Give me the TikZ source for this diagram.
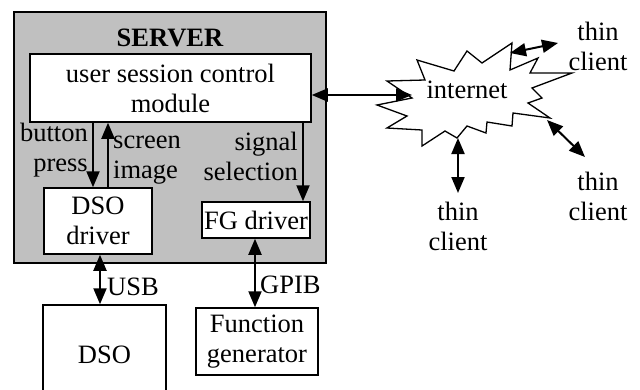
\documentclass[tikz,border=0pt]{standalone}
\usepackage{fontspec}
\setmainfont{Liberation Serif}
\usepackage{tikz}
\usetikzlibrary{arrows.meta,calc,positioning}
\definecolor{ServerGray}{HTML}{C0C0C0}

\begin{document}
\begin{tikzpicture}[x=1pt, y=-1pt, >={Triangle[length=16pt,width=13pt]},
    font=\fontsize{26.5}{30}\selectfont,
    box/.style={draw, line width=1.5pt, fill=white, inner sep=0pt, align=center},
    lbl/.style={inner sep=0pt, align=center},
    link/.style={line width=2pt}]
    \useasboundingbox (0,0) rectangle (640,389);

    % Server frame
    \node[box, fill=ServerGray, minimum width=312pt, minimum height=251pt] (server) at (170,137.5) {};
    \node[font=\fontsize{26.5}{30}\selectfont\bfseries, lbl] (title) at (170,38) {SERVER};

    % Boxes inside the server
    \node[box, minimum width=281pt, minimum height=68pt] (usc) at (170.5,88) {user session control\\module};
    \node[box, minimum width=108pt, minimum height=66pt] (dsod) at (98,221) {DSO\\driver};
    \node[box, minimum width=108pt, minimum height=36pt] (fgd) at (256,220) {FG driver};

    % Instruments
    \node[box, minimum width=123pt, minimum height=100pt] (dso) at (104.5,355) {DSO};
    \node[box, minimum width=122pt, minimum height=67pt] (fg) at (257,341.5) {Function\\generator};

    % Internet cloud
    \draw[line width=1.3pt, fill=white] (377,105) -- (412,98) -- (387,81) -- (425,80) -- (417,60)
        -- (454,71) -- (467,51) -- (482,63) -- (512,43) -- (510,70) -- (538,58) -- (530,73)
        -- (572,73) -- (532,88) -- (542,98) -- (528,103) -- (550,118) -- (513,113) -- (512,126)
        -- (487,122) -- (486,133) -- (467,126) -- (457,138) -- (445,131) -- (422,146) -- (422,130)
        -- (387,128) -- (407,116) -- cycle;
    \node[lbl] (net) at (467,90) {internet};
    \coordinate (netW) at (412,95);
    \coordinate (netNE) at (510,53);
    \coordinate (netSE) at (547,120);
    \coordinate (netS) at (458,138);

    % Clients
    \node[lbl] (clientA) at (598,46) {thin\\client};
    \node[lbl] (clientB) at (598,196) {thin\\client};
    \node[lbl] (clientC) at (458,226) {thin\\client};
    \coordinate (cA) at (558,43);
    \coordinate (cB) at (585,157);
    \coordinate (cC) at (458,193);

    % Internal connections
    \draw[link, ->] (usc.south -| 93,0) -- (dsod.north -| 93,0);
    \draw[link, ->] (dsod.north -| 108,0) -- (usc.south -| 108,0);
    \draw[link, ->] (usc.south -| 303,0) -- (fgd.north -| 303,0);
    \node[lbl, anchor=east, align=right] (bp) at (88,150) {button\\press};
    \node[lbl, anchor=west, align=left] (si) at (113,160) {screen\\image};
    \node[lbl, anchor=east, align=right] (ss) at (298,156) {signal\\selection};

    % Instrument links
    \draw[link, <->] (dsod.south -| 100,0) -- (dso.north -| 100,0);
    \node[lbl, anchor=west] (usb) at (107,287) {USB};
    \draw[link, <->] (fgd.south -| 255,0) -- (fg.north -| 255,0);
    \node[lbl, anchor=west] (gpib) at (260,285) {GPIB};

    % Network links
    \draw[link, <->] (usc.east |- netW) -- (netW);
    \draw[link, <->] (netNE) -- (cA);
    \draw[link, <->] (netSE) -- (cB);
    \draw[link, <->] (netS) -- (cC);

\end{tikzpicture}
\end{document}
